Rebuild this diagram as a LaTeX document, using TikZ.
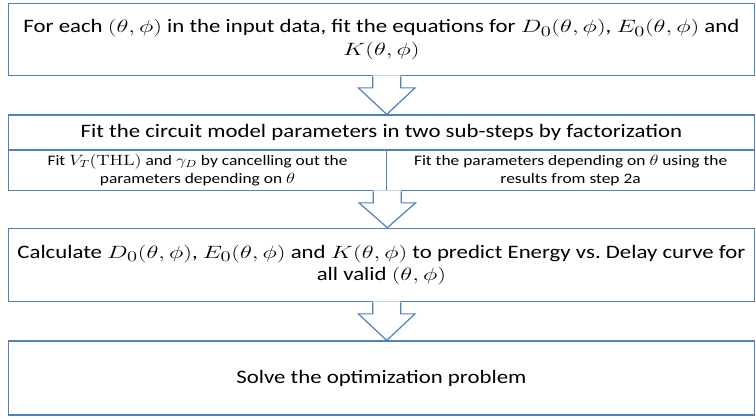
\documentclass[tikz,border=0pt]{standalone}
\usepackage[no-math]{fontspec}
\setmainfont[FakeStretch=1.2]{Carlito}
\usetikzlibrary{calc}
\definecolor{boxblue}{RGB}{79,129,189}
\newcommand\mth[1]{\scalebox{1.42}[1.03]{$#1$}}
\newcommand\mths[1]{\scalebox{1.28}[1.03]{$#1$}}
\tikzset{
  box/.style={draw=boxblue, line width=1.2pt, fill=white, rectangle, inner sep=0pt,
    align=center, text=black, font=\fontsize{19}{22.5}\selectfont},
  subbox/.style={box, font=\fontsize{14.5}{18}\selectfont},
  arrowline/.style={draw=boxblue, line width=1.2pt, line join=miter}
}
% block arrow: #1 = start point (shaft top centre), #2 = tip point
\newcommand\flowarrow[2]{%
  \path let \p1=(#1), \p2=(#2) in
    [fill=white] (\x1-14pt,\y1+1pt) -- (\x1-14pt,\y1-11.6pt) -- (\x1-28.3pt,\y1-11.6pt)
      -- (\x1,\y2) -- (\x1+28.3pt,\y1-11.6pt) -- (\x1+14pt,\y1-11.6pt) -- (\x1+14pt,\y1+1pt) -- cycle;
  \path let \p1=(#1), \p2=(#2) in
    [arrowline] (\x1-14pt,\y1) -- (\x1-14pt,\y1-11.6pt) -- (\x1-28.3pt,\y1-11.6pt)
      -- (\x1,\y2) -- (\x1+28.3pt,\y1-11.6pt) -- (\x1+14pt,\y1-11.6pt) -- (\x1+14pt,\y1);
}
\begin{document}
\begin{tikzpicture}[x=1pt,y=-1pt]
\useasboundingbox (0,0) rectangle (756,419);
% box 1
\node[box, minimum width=746.2pt, minimum height=72.4pt] (b1) at (381.4,39.5)
  {For each \mth{(\theta,\phi)} in the input data, fit the equations for \mth{D_0(\theta,\phi)}, \mth{E_0(\theta,\phi)} and\\ \mth{K(\theta,\phi)}};
% box 2
\node[box, minimum width=746.2pt, minimum height=35pt] (b2h) at (381.4,132.5)
  {Fit the circuit model parameters in two sub-steps by factorization};
\node[subbox, minimum width=378.4pt, minimum height=40.7pt] (b2a) at (197.5,170.35)
  {Fit \mths{V_T(\mathrm{THL})} and \mths{\gamma_D} by cancelling out the\\ parameters depending on \mths{\theta}};
\node[subbox, minimum width=367.8pt, minimum height=40.7pt] (b2b) at (570.6,170.35)
  {Fit the parameters depending on \mths{\theta} using the\\ results from step 2a};
% box 3
\node[box, minimum width=746.2pt, minimum height=73.4pt] (b3) at (381.4,265)
  {Calculate \mth{D_0(\theta,\phi)}, \mth{E_0(\theta,\phi)} and \mth{K(\theta,\phi)} to predict Energy vs.\ Delay curve for\\ all valid \mth{(\theta,\phi)}};
% box 4
\node[box, minimum width=746.2pt, minimum height=74pt] (b4) at (381.4,378)
  {Solve the optimization problem};
% arrows
\flowarrow{[xshift=5.3pt]b1.south}{[xshift=5.3pt]b2h.north}
\flowarrow{b2a.south east}{[xshift=5.3pt]b3.north}
\flowarrow{[xshift=5.3pt]b3.south}{[xshift=5.3pt]b4.north}
\end{tikzpicture}
\end{document}
